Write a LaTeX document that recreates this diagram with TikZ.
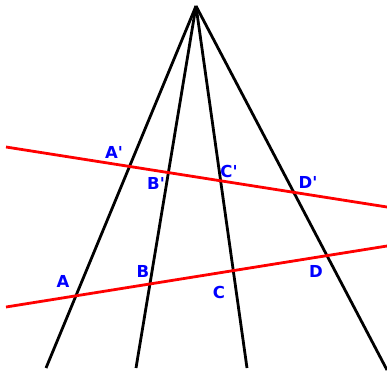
\documentclass[tikz,border=0pt]{standalone}
\usepackage{fontspec}
\setmainfont{DejaVu Sans}
\begin{document}
\begin{tikzpicture}[x=1pt,y=-1pt,
  ray/.style={black,line width=2.8pt},
  trans/.style={red,line width=2.8pt},
  lbl/.style={text=blue,font=\bfseries\fontsize{16.5}{16.5}\selectfont,inner sep=0pt}]
\useasboundingbox (0,0) rectangle (387,370);
\coordinate (O) at (196,6);
\coordinate (a) at (46,368);
\coordinate (b) at (136,368);
\coordinate (c) at (247,368);
\coordinate (d) at (387,370);
\coordinate (u1) at (6,147);
\coordinate (u2) at (387,207);
\coordinate (l1) at (6,307);
\coordinate (l2) at (387,246);
\draw[ray] (O) -- (a);
\draw[ray] (O) -- (b);
\draw[ray] (O) -- (c);
\draw[ray] (O) -- (d);
\draw[trans] (u1) -- (u2);
\draw[trans] (l1) -- (l2);
\node[lbl] (Ap) at (114,152) {A\textquotesingle};
\node[lbl] (Bp) at (156,183) {B\textquotesingle};
\node[lbl] (Cp) at (229,171) {C\textquotesingle};
\node[lbl] (Dp) at (308,182) {D\textquotesingle};
\node[lbl] (A) at (63,281) {A};
\node[lbl] (B) at (143,271) {B};
\node[lbl] (C) at (219,292) {C};
\node[lbl] (D) at (316,271) {D};
\end{tikzpicture}
\end{document}
